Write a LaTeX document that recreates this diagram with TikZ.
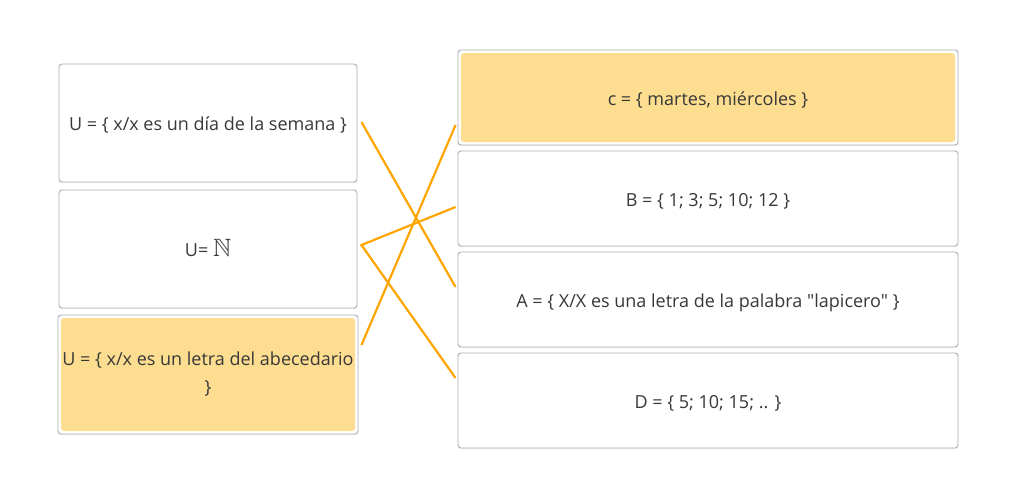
\documentclass[tikz,border=0pt]{standalone}
\usepackage{amssymb}
\usepackage{fontspec}
\setmainfont{Open Sans}[Ligatures=TeXOff]
\usepackage{tikz}
\usetikzlibrary{calc,shadows}

\definecolor{hl}{HTML}{FDDD90}
\definecolor{edge}{HTML}{AEAEAE}
\definecolor{txt}{HTML}{383838}
\definecolor{link}{HTML}{FFA500}

\tikzset{
    box/.style={draw=edge, line width=0.9pt, rounded corners=3pt, fill=white,
        minimum width=500pt, minimum height=95pt, inner sep=0pt, align=center,
        text=txt, font=\fontsize{18}{28}\selectfont,
        drop shadow={shadow xshift=0pt, shadow yshift=-1pt, opacity=0.15}},
    oneline/.style={text height=15pt, text depth=0pt},
    lbox/.style={box, minimum width=298pt, minimum height=118pt},
    picked/.style={path picture={\fill[hl] ([shift={(3,3)}]path picture bounding box.north west)
        rectangle ([shift={(-3,-3)}]path picture bounding box.south east);}},
    link/.style={draw=link, line width=2.2pt}
}

\begin{document}
\begin{tikzpicture}[x=1pt,y=-1pt]
    \useasboundingbox (0,0) rectangle (1015,498);
    % left column
    \node[lbox, oneline] (u1) at (208,123) {U = \{ x/x es un día de la semana \}};
    \node[lbox, oneline] (u2) at (208,249) {U= {\fontsize{25}{25}\selectfont$\mathbb{N}$}};
    \node[lbox, picked, minimum width=300pt, minimum height=119pt] (u3) at (208,374.5)
        {U = \{ x/x es un letra del abecedario\\\}};
    % right column
    \node[box, oneline, picked] (c) at (708,97.5) {c = \{ martes, miércoles \}};
    \foreach \n/\y/\t in {b/198.5/{B = \{ 1; 3; 5; 10; 12 \}},
        a/299.5/{A = \{ X/X es una letra de la palabra "lapicero" \}},
        d/400.5/{D = \{ 5; 10; 15; .. \}}}
        \node[box, oneline] (\n) at (708,\y) {\t};
    % connector ends
    \coordinate (u1e) at ($(u1.east)+(4,-1)$);
    \coordinate (u2e) at ($(u2.east)+(4,-4)$);
    \coordinate (u3e) at ($(u3.east)+(3,-29.5)$);
    \coordinate (ce) at ($(c.west)+(-2,27.5)$);
    \coordinate (be) at ($(b.west)+(-2,8.5)$);
    \coordinate (ae) at ($(a.west)+(-2,-12.5)$);
    \coordinate (de) at ($(d.west)+(-2,-22.5)$);
    \draw[link] (u1e) -- (ae);
    \draw[link] (be) -- (u2e) -- (de);
    \draw[link] (u3e) -- (ce);
\end{tikzpicture}
\end{document}
